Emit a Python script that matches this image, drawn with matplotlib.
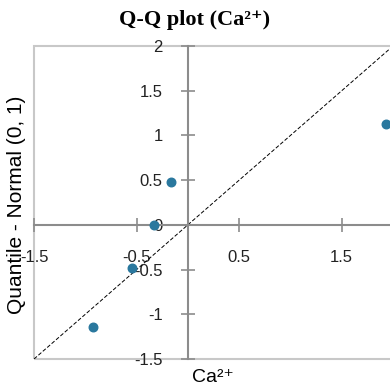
import matplotlib
matplotlib.use("Agg")
import matplotlib.pyplot as plt
from matplotlib.patches import Rectangle

# Q-Q plot values (observed standardized Ca2+ vs normal quantile)
ca_values = [-0.92, -0.54, -0.33, -0.16, 1.93]
normal_quantiles = [-1.14, -0.48, 0.0, 0.48, 1.13]

x_ticks = [-1.5, -0.5, 0.5, 1.5]
x_tick_labels = ["-1.5", "-0.5", "0.5", "1.5"]
y_ticks = [-1.5, -1, -0.5, 0, 0.5, 1, 1.5, 2]
y_tick_labels = ["-1.5", "-1", "-0.5", "0", "0.5", "1", "1.5", "2"]

sans = ["Liberation Sans", "DejaVu Sans"]
serif = ["Liberation Serif", "DejaVu Serif"]

fig = plt.figure(figsize=(3.9, 3.89), dpi=100)
ax = fig.add_axes([0.0872, 0.0771, 0.9205, 0.8046])

ax.set_xlim(-1.5, 2)
ax.set_ylim(-1.5, 2)

# reference line y = x
ax.plot([-1.5, 2], [-1.5, 2], color="black", lw=0.7, ls=(0, (4, 2)), zorder=2)
ax.scatter(ca_values, normal_quantiles, s=38, color="#2a789e", zorder=3, clip_on=False)

# axes crossing at origin
for side in ["left", "bottom"]:
    ax.spines[side].set_position(("data", 0))
    ax.spines[side].set_color("#8c8c8c")
    ax.spines[side].set_linewidth(1.5)
ax.spines["top"].set_visible(False)
ax.spines["right"].set_visible(False)

# light frame
ax.add_patch(Rectangle((0, 0), 1, 1, transform=ax.transAxes, fill=False,
                       ec="#c8c8c8", lw=1.5, clip_on=False, zorder=0))

ax.set_xticks(x_ticks)
ax.set_xticklabels(x_tick_labels, family=sans, fontsize=12)
ax.set_yticks(y_ticks)
ax.set_yticklabels(y_tick_labels, family=sans, fontsize=12)
ax.tick_params(axis="both", direction="inout", length=10, width=1.2,
               color="#8c8c8c", labelcolor="#222222")
ax.tick_params(axis="x", pad=13)
ax.tick_params(axis="y", pad=13)

fig.text(0.5, 0.948, "Q-Q plot (Ca²⁺)", ha="center", va="center",
         family=serif, fontweight="bold", fontsize=16)
fig.text(192 / 390, 1 - 377 / 389, "Ca²⁺", ha="left", va="center",
         family=sans, fontsize=14)
fig.text(17 / 390, 1 - 205 / 389, "Quantile - Normal (0, 1)", rotation=90,
         ha="center", va="center", family=sans, fontsize=15)

fig.savefig("out.png", dpi=100)
